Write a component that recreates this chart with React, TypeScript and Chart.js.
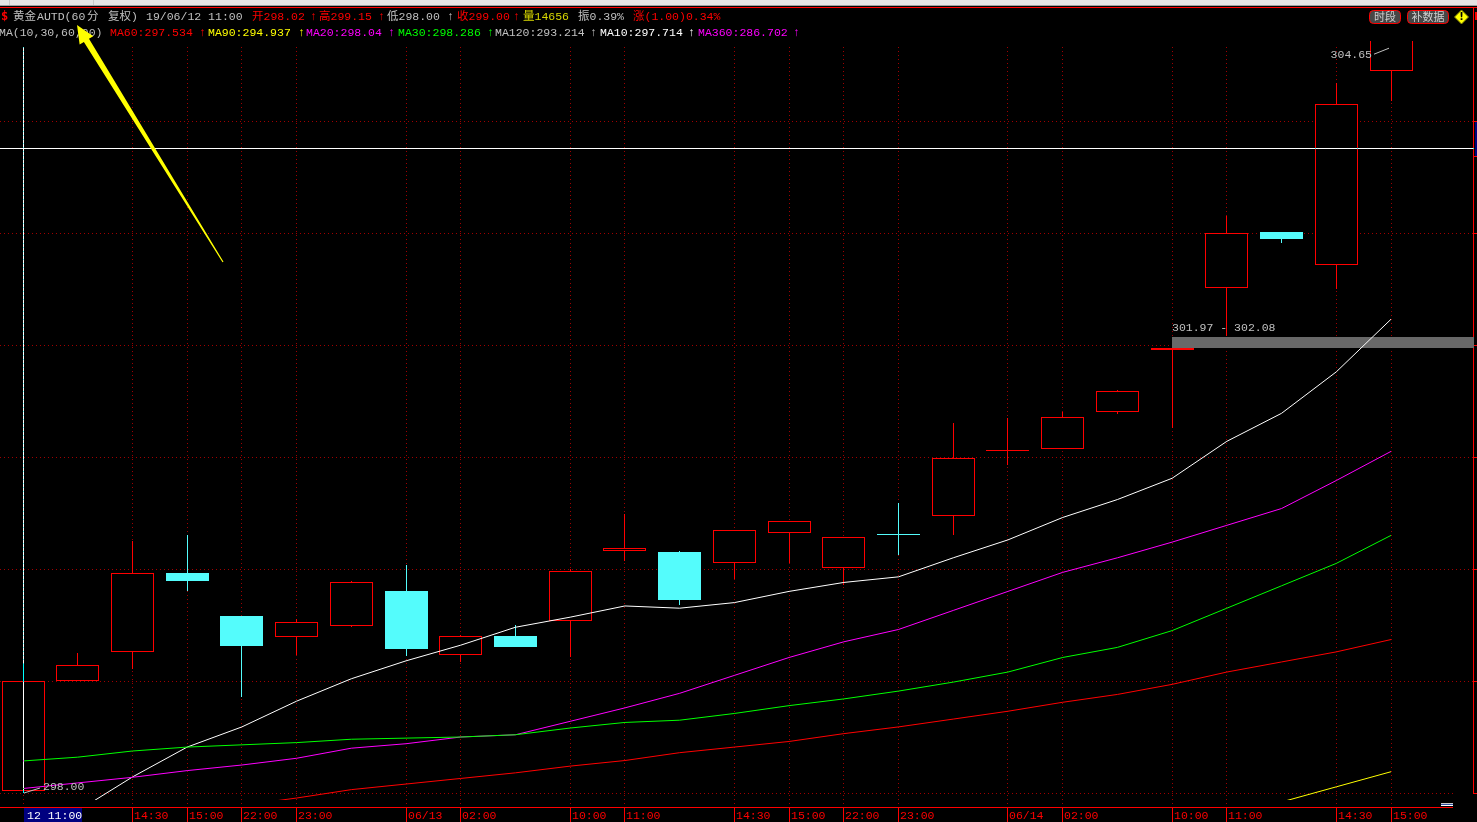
import React, { useEffect, useRef } from "react";
import { Chart, registerables } from "chart.js";

Chart.register(...registerables);

// ---------------- data ----------------
const opens = [298.02, 299.0, 299.26, 299.96, 299.58, 299.39, 299.49, 299.8, 299.23, 299.4, 299.54, 300.16, 300.15, 300.05, 300.32, 300.01, 300.315, 300.47, 301.055, 301.07, 301.4, 301.955, 302.51, 303.01, 302.71, 304.45];
const highs = [299.15, 299.25, 300.25, 300.3, 299.58, 299.55, 299.89, 300.04, 299.41, 299.5, 300.0, 300.49, 300.16, 300.35, 300.43, 300.29, 300.59, 301.3, 301.35, 301.4, 301.6, 301.97, 303.15, 303.01, 304.34, 304.8];
const lows = [298.0, 299.0, 299.11, 299.8, 298.86, 299.23, 299.48, 299.22, 299.17, 299.3, 299.21, 300.07, 299.68, 299.91, 300.05, 299.86, 300.125, 300.3, 300.93, 301.07, 301.38, 301.26, 302.08, 302.91, 302.5, 304.18];
const closes = [299.0, 299.14, 299.96, 299.89, 299.31, 299.53, 299.88, 299.29, 299.4, 299.3, 299.98, 300.19, 299.72, 300.35, 300.43, 300.29, 300.305, 300.99, 301.065, 301.36, 301.59, 301.97, 303.0, 302.95, 304.15, 304.8];

const ma10 = [297.714, 297.84, 298.143, 298.41, 298.59, 298.82, 299.02, 299.18, 299.32, 299.48, 299.57, 299.67, 299.65, 299.7, 299.8, 299.88, 299.93, 300.1, 300.26, 300.46, 300.62, 300.81, 301.14, 301.39, 301.76, 302.23];
const ma20 = [298.04, 298.09, 298.14, 298.2, 298.25, 298.31, 298.4, 298.44, 298.5, 298.52, 298.64, 298.76, 298.89, 299.05, 299.21, 299.35, 299.46, 299.63, 299.8, 299.97, 300.1, 300.24, 300.39, 300.54, 300.79, 301.05];
const ma30 = [298.286, 298.32, 298.375, 298.41, 298.43, 298.45, 298.48, 298.49, 298.5, 298.52, 298.58, 298.63, 298.65, 298.71, 298.78, 298.84, 298.91, 298.99, 299.08, 299.21, 299.3, 299.45, 299.65, 299.85, 300.05, 300.3];
const ma60 = [297.534, 297.62, 297.7, 297.78, 297.89, 297.955, 298.03, 298.08, 298.13, 298.18, 298.24, 298.29, 298.36, 298.41, 298.46, 298.53, 298.59, 298.66, 298.73, 298.81, 298.88, 298.97, 299.08, 299.17, 299.26, 299.37];
const ma90: (number | null)[] = [294.937, null, null, null, null, null, null, null, null, null, null, null, null, null, null, null, null, null, null, null, null, 297.65, 297.79, 297.92, 298.055, 298.19];

const yTickValues = [298, 299, 300, 301, 302, 303, 304];
const axisLabelIdx = [2, 3, 4, 5, 7, 8, 10, 11, 13, 14, 15, 16, 18, 19, 21, 22, 24, 25];
const axisLabelText = ["14:30", "15:00", "22:00", "23:00", "06/13", "02:00", "10:00", "11:00", "14:30", "15:00", "22:00", "23:00", "06/14", "02:00", "10:00", "11:00", "14:30", "15:00"];
const crosshairIdx = 0;
const crosshairLabel = "12 11:00";
const crosshairPrice = 303.76;
const maxHighLabel = 304.65;
const volume = 14656;

// ---------------- styling constants ----------------
const W = 1477;
const H = 822;
const RED = "#FF0000";
const CYAN = "#54FCFC";
const GRID = "#A00000";
const GRAYTXT = "#C0C0C0";
const MONO = "11.5px 'Liberation Mono', 'DejaVu Sans Mono', 'Noto Sans CJK SC', monospace";
const CJK = "11px 'Noto Sans CJK SC', sans-serif";

const STEP = 54.72;
const FIRST_X = 23;
const PLOT_RIGHT = 1474;
const X_MIN = -FIRST_X / STEP;
const X_MAX = X_MIN + PLOT_RIGHT / STEP;
const Y_MIN = 298 - 7 / 112;
const Y_MAX = 298 + 752 / 112;

const isUp = (i: number) => closes[i] >= opens[i];

function txt(ctx: CanvasRenderingContext2D, s: string, x: number, y: number, color: string, font = MONO, align: CanvasTextAlign = "left") {
  ctx.font = font;
  ctx.fillStyle = color;
  ctx.textAlign = align;
  ctx.textBaseline = "middle";
  ctx.fillText(s, x, y);
}

const chromePlugin = {
  id: "chrome",
  afterDatasetsUpdate(chart: any) {
    // pixel-snap the candle elements so 1px borders and wicks are crisp
    chart.data.datasets.forEach((ds: any, di: number) => {
      if (ds.type !== "bar") return;
      const meta = chart.getDatasetMeta(di);
      meta.data.forEach((el: any) => {
        el.x = Math.floor(el.x) + 0.5;
        el.y = Math.round(el.y);
        el.base = Math.round(el.base);
      });
    });
  },
  beforeDraw(chart: any) {
    const ctx: CanvasRenderingContext2D = chart.ctx;
    ctx.save();
    ctx.fillStyle = "#000";
    ctx.fillRect(0, 0, W, H);
    // window strip on top
    ctx.fillStyle = "#E4E4E4";
    ctx.fillRect(0, 0, W, 6);
    ctx.fillStyle = "#A0A0A0";
    ctx.fillRect(0, 5, W, 1);
    ctx.fillStyle = "#C8C8C8";
    ctx.fillRect(9, 0, 1, 5);
    ctx.fillRect(93, 0, 1, 5);
    ctx.fillStyle = RED;
    ctx.fillRect(0, 7, W, 1);

    // header row 1
    const r1 = 17;
    txt(ctx, "$", 1, r1, RED, "bold 12px 'DejaVu Sans Mono', monospace");
    txt(ctx, "黄金", 13, r1, GRAYTXT);
    txt(ctx, "AUTD(60", 37, r1, GRAYTXT);
    txt(ctx, "分", 87, r1, GRAYTXT);
    txt(ctx, "复权)", 108, r1, GRAYTXT);
    txt(ctx, "19/06/12 11:00", 146, r1, GRAYTXT);
    txt(ctx, "开" + opens[0].toFixed(2), 252, r1, RED);
    txt(ctx, "↑", 310, r1, RED);
    txt(ctx, "高" + highs[0].toFixed(2), 319, r1, RED);
    txt(ctx, "↑", 378, r1, RED);
    txt(ctx, "低" + lows[0].toFixed(2), 387, r1, GRAYTXT);
    txt(ctx, "↑", 447, r1, GRAYTXT);
    txt(ctx, "收" + closes[0].toFixed(2), 457, r1, RED);
    txt(ctx, "↑", 513, r1, RED);
    txt(ctx, "量" + volume, 523, r1, "#D8D800");
    txt(ctx, "振0.39%", 578, r1, GRAYTXT);
    txt(ctx, "涨(1.00)0.34%", 633, r1, RED);

    // header row 2
    const r2 = 33;
    txt(ctx, "MA(10,30,60,90)", -1, r2, GRAYTXT);
    const items: [string, string, number, number][] = [
      ["MA60:" + ma60[0], RED, 110, 199],
      ["MA90:" + ma90[0], "#FFFF00", 208, 298],
      ["MA20:" + ma20[0], "#FF00FF", 306, 388],
      ["MA30:" + ma30[0], "#00FF00", 398, 487],
      ["MA120:293.214", GRAYTXT, 495, 590],
      ["MA10:" + ma10[0], "#FFFFFF", 600, 688],
      ["MA360:286.702", "#FF00FF", 698, 793],
    ];
    for (const [s, c, x, ax] of items) {
      txt(ctx, s, x, r2, c);
      txt(ctx, "↑", ax, r2, c);
    }

    // buttons top right
    const btn = (x: number, w: number, label: string) => {
      ctx.beginPath();
      (ctx as any).roundRect(x + 0.5, 10.5, w, 13, 4);
      ctx.fillStyle = "#474747";
      ctx.fill();
      ctx.strokeStyle = RED;
      ctx.lineWidth = 1;
      ctx.stroke();
      txt(ctx, label, x + w / 2 + 0.5, 17, "#D0D0D0", CJK, "center");
    };
    btn(1369, 31, "时段");
    btn(1407, 41, "补数据");
    // warning diamond
    ctx.beginPath();
    ctx.moveTo(1461.5, 10);
    ctx.lineTo(1468.5, 17);
    ctx.lineTo(1461.5, 24);
    ctx.lineTo(1454.5, 17);
    ctx.closePath();
    ctx.fillStyle = "#FFFF00";
    ctx.fill();
    ctx.strokeStyle = "#808000";
    ctx.stroke();
    txt(ctx, "!", 1461.5, 17, "#000", "bold 10px 'DejaVu Sans', sans-serif", "center");
    ctx.fillStyle = RED;
    ctx.fillRect(1475, 12, 2, 8);
    ctx.restore();
  },
  beforeDatasetsDraw(chart: any) {
    const ctx: CanvasRenderingContext2D = chart.ctx;
    const xs = chart.scales.x;
    const ys = chart.scales.y;
    ctx.save();
    ctx.lineWidth = 1;
    ctx.strokeStyle = GRID;
    ctx.setLineDash([1, 3]);
    // horizontal grid
    yTickValues.forEach((v, k) => {
      const y = Math.round(ys.getPixelForValue(v)) + 0.5;
      ctx.beginPath();
      ctx.moveTo(0, y);
      ctx.lineTo(k === 0 ? 1453 : 1473, y);
      ctx.stroke();
    });
    // vertical grid
    [crosshairIdx, ...axisLabelIdx].forEach((i) => {
      const x = Math.floor(xs.getPixelForValue(i)) + 0.5;
      ctx.beginPath();
      ctx.moveTo(x, 47);
      ctx.lineTo(x, 807);
      ctx.stroke();
    });
    ctx.setLineDash([]);

    // right frame + ticks
    ctx.fillStyle = RED;
    ctx.fillRect(1473, 8, 1, 785);
    yTickValues.forEach((v) => {
      const y = Math.round(ys.getPixelForValue(v));
      ctx.fillRect(1473, y, 4, 1);
    });
    ctx.fillStyle = "#000080";
    ctx.fillRect(1475, 121, 2, 36);
    ctx.fillStyle = RED;
    ctx.fillRect(1474, 121, 3, 1);
    ctx.fillRect(1474, 156, 3, 1);

    // bottom axis
    ctx.fillStyle = RED;
    ctx.fillRect(0, 807, 1453, 1);
    axisLabelIdx.forEach((i, k) => {
      const x = Math.floor(xs.getPixelForValue(i));
      ctx.fillStyle = RED;
      ctx.fillRect(x, 808, 1, 14);
      txt(ctx, axisLabelText[k], x + 2, 816, RED);
    });
    const cx = Math.floor(xs.getPixelForValue(crosshairIdx));
    ctx.fillStyle = "#000080";
    ctx.fillRect(cx + 1, 808, 58, 14);
    txt(ctx, crosshairLabel, cx + 4, 816, "#FFFFFF");

    // small icon bottom right
    ctx.fillStyle = "#C8C8C8";
    ctx.fillRect(1441, 803, 12, 1);
    ctx.fillStyle = "#3050A0";
    ctx.fillRect(1441, 804, 12, 1);
    ctx.fillStyle = "#FFFFFF";
    ctx.fillRect(1441, 805, 12, 1);

    // gap band between candle 21 high and candle 22 low
    const gLow = highs[21];
    const gHigh = lows[22];
    const gx = Math.floor(xs.getPixelForValue(21));
    const gy1 = Math.round(ys.getPixelForValue(gHigh)) + 1;
    const gy2 = Math.round(ys.getPixelForValue(gLow));
    ctx.fillStyle = "#686868";
    ctx.fillRect(gx, gy1, PLOT_RIGHT - gx, gy2 - gy1);
    txt(ctx, gLow.toFixed(2) + " - " + gHigh.toFixed(2), gx, gy1 - 9, GRAYTXT);
    ctx.restore();
  },
  afterDatasetsDraw(chart: any) {
    const ctx: CanvasRenderingContext2D = chart.ctx;
    const xs = chart.scales.x;
    const ys = chart.scales.y;
    ctx.save();
    // crosshair (XOR-like)
    ctx.globalCompositeOperation = "difference";
    ctx.fillStyle = "#FFFFFF";
    const cx = Math.floor(xs.getPixelForValue(crosshairIdx));
    const cy = Math.round(ys.getPixelForValue(crosshairPrice));
    ctx.fillRect(cx, 47, 1, 746);
    ctx.fillRect(0, cy, cx, 1);
    ctx.fillRect(cx + 1, cy, PLOT_RIGHT - cx - 1, 1);
    ctx.globalCompositeOperation = "source-over";

    // low label on first candle
    ctx.strokeStyle = GRAYTXT;
    ctx.lineWidth = 1;
    const lx = xs.getPixelForValue(0);
    const ly = ys.getPixelForValue(lows[0]);
    ctx.beginPath();
    ctx.moveTo(lx + 1, ly);
    ctx.lineTo(lx + 17, ly - 5);
    ctx.stroke();
    txt(ctx, lows[0].toFixed(2), lx + 20, ly - 6, GRAYTXT);

    // high label on last candle
    const last = highs.length - 1;
    const hx = xs.getPixelForValue(last);
    const hy = ys.getPixelForValue(maxHighLabel);
    ctx.beginPath();
    ctx.moveTo(hx - 2, hy);
    ctx.lineTo(hx - 17, hy + 6);
    ctx.stroke();
    txt(ctx, maxHighLabel.toFixed(2), hx - 19, hy + 7, GRAYTXT, MONO, "right");

    // yellow drawn arrow
    const tip = { x: 77, y: 25 };
    const tail = { x: 223, y: 262 };
    const dx = tip.x - tail.x;
    const dy = tip.y - tail.y;
    const len = Math.hypot(dx, dy);
    const ux = dx / len;
    const uy = dy / len;
    const px = -uy;
    const py = ux;
    const headLen = 18;
    const headHalf = 8;
    const shaftHead = 3;
    const shaftTail = 0.6;
    const bx = tip.x - ux * headLen;
    const by = tip.y - uy * headLen;
    ctx.beginPath();
    ctx.moveTo(tip.x, tip.y);
    ctx.lineTo(bx + px * headHalf, by + py * headHalf);
    ctx.lineTo(bx + px * shaftHead, by + py * shaftHead);
    ctx.lineTo(tail.x + px * shaftTail, tail.y + py * shaftTail);
    ctx.lineTo(tail.x - px * shaftTail, tail.y - py * shaftTail);
    ctx.lineTo(bx - px * shaftHead, by - py * shaftHead);
    ctx.lineTo(bx - px * headHalf, by - py * headHalf);
    ctx.closePath();
    ctx.fillStyle = "#FFFF00";
    ctx.fill();
    ctx.restore();
  },
};

function lineDs(label: string, values: (number | null)[], color: string) {
  return {
    type: "line" as const,
    label,
    data: values.map((v, i) => ({ x: i, y: v })),
    borderColor: color,
    backgroundColor: color,
    borderWidth: 1,
    pointRadius: 0,
    tension: 0,
    spanGaps: false,
    order: 0,
  };
}

export default function App() {
  const ref = useRef<HTMLCanvasElement | null>(null);
  useEffect(() => {
    if (!ref.current) return;
    const chart = new Chart(ref.current, {
      type: "bar",
      data: {
        datasets: [
          lineDs("MA90", ma90, "#FFFF00"),
          lineDs("MA60", ma60, "#FF0000"),
          lineDs("MA30", ma30, "#00FF00"),
          lineDs("MA20", ma20, "#FF00FF"),
          lineDs("MA10", ma10, "#FFFFFF"),
          {
            type: "bar",
            label: "body",
            data: opens.map((o, i) => ({ x: i, y: [o, closes[i]] })),
            backgroundColor: opens.map((_, i) => (isUp(i) ? "#000000" : CYAN)),
            borderColor: opens.map((_, i) => (isUp(i) ? RED : CYAN)),
            borderWidth: 1,
            borderSkipped: false,
            barThickness: 43,
            grouped: false,
            inflateAmount: 0,
            clip: 0,
            order: 1,
          } as any,
          {
            type: "bar",
            label: "wick",
            data: lows.map((l, i) => ({ x: i, y: [l, highs[i]] })),
            backgroundColor: lows.map((_, i) => (isUp(i) ? RED : CYAN)),
            borderWidth: 0,
            barThickness: 1,
            grouped: false,
            inflateAmount: 0,
            clip: 0,
            order: 2,
          } as any,
        ],
      },
      options: {
        animation: false,
        responsive: false,
        maintainAspectRatio: false,
        devicePixelRatio: 1,
        events: [],
        layout: { padding: { top: 41, bottom: 22, left: 0, right: W - PLOT_RIGHT } },
        scales: {
          x: { type: "linear", min: X_MIN, max: X_MAX, display: false, offset: false },
          y: { type: "linear", min: Y_MIN, max: Y_MAX, display: false },
        },
        plugins: { legend: { display: false }, tooltip: { enabled: false } },
      } as any,
      plugins: [chromePlugin as any],
    });
    return () => chart.destroy();
  }, []);
  return (
    <div style={{ position: "fixed", left: 0, top: 0, width: W, height: H, background: "#000" }}>
      <canvas ref={ref} width={W} height={H} style={{ display: "block", width: W, height: H }} />
    </div>
  );
}
